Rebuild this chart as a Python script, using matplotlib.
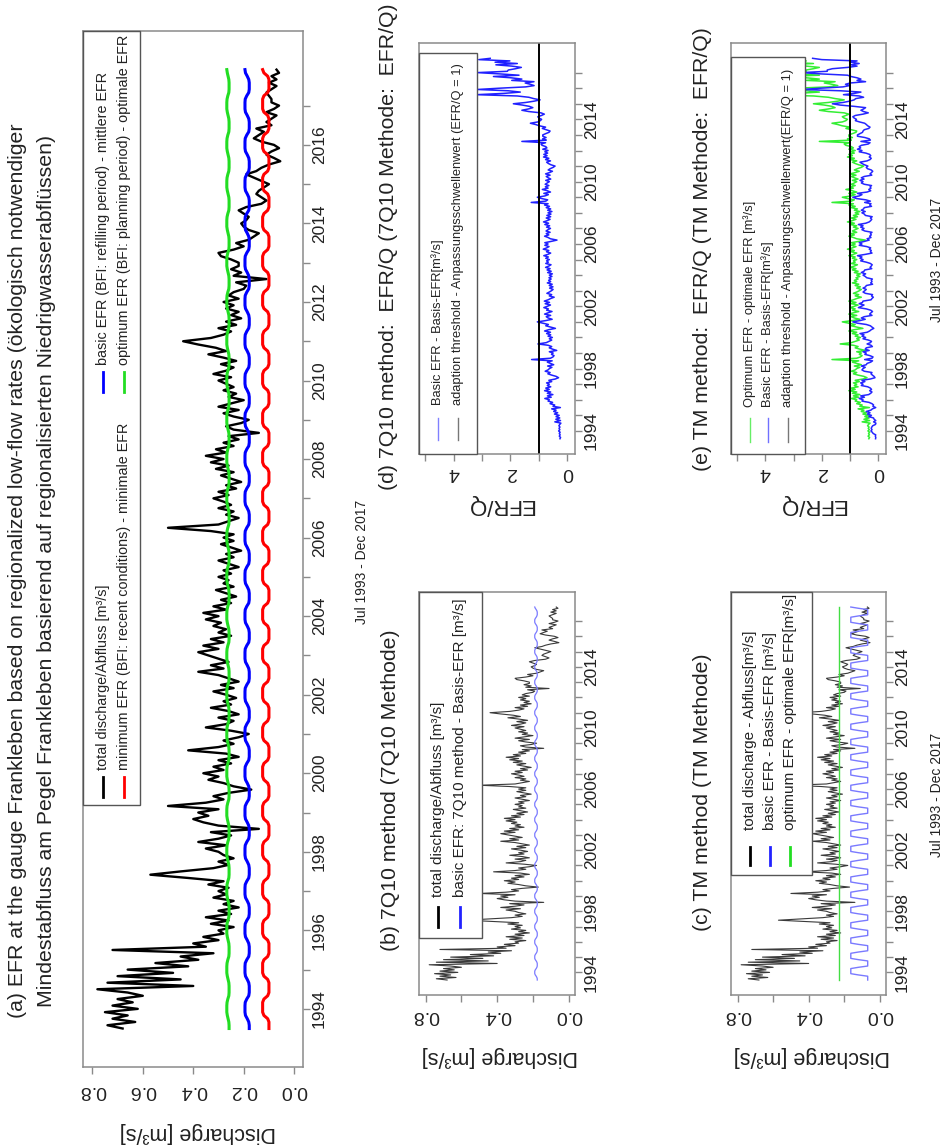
import numpy as np
import matplotlib.pyplot as plt
from matplotlib.lines import Line2D
from matplotlib.patches import Rectangle

plt.rcParams['font.family'] = ['Liberation Sans', 'DejaVu Sans']

# figure size in pixels (the original figure is rotated 90 degrees)
W, H = 952, 1148

# monthly discharge [m3/s], Jul 1993 - Dec 2017
discharge = [
    0.68, 0.74, 0.63, 0.72, 0.66, 0.75,                                  # 1993
    0.62, 0.72, 0.64, 0.70, 0.60, 0.66, 0.78, 0.40, 0.74, 0.45, 0.70, 0.48,  # 1994
    0.66, 0.42, 0.55, 0.38, 0.45, 0.32, 0.72, 0.35, 0.40, 0.30, 0.36, 0.28,  # 1995
    0.30, 0.24, 0.33, 0.26, 0.35, 0.25, 0.30, 0.22, 0.28, 0.24, 0.32, 0.27,  # 1996
    0.30, 0.26, 0.34, 0.28, 0.42, 0.57, 0.45, 0.32, 0.26, 0.30, 0.24, 0.28,  # 1997
    0.30, 0.35, 0.27, 0.38, 0.30, 0.25, 0.33, 0.14, 0.30, 0.36, 0.40, 0.34,  # 1998
    0.38, 0.30, 0.50, 0.35, 0.28, 0.32, 0.26, 0.17, 0.24, 0.28, 0.34, 0.30,  # 1999
    0.36, 0.28, 0.32, 0.25, 0.30, 0.22, 0.27, 0.42, 0.30, 0.24, 0.28, 0.22,  # 2000
    0.18, 0.25, 0.35, 0.27, 0.24, 0.30, 0.22, 0.26, 0.33, 0.25, 0.28, 0.23,  # 2001
    0.27, 0.32, 0.24, 0.29, 0.22, 0.26, 0.30, 0.38, 0.28, 0.33, 0.26, 0.30,  # 2002
    0.34, 0.38, 0.30, 0.36, 0.28, 0.33, 0.25, 0.30, 0.27, 0.32, 0.29, 0.35,  # 2003
    0.30, 0.36, 0.27, 0.32, 0.25, 0.29, 0.23, 0.27, 0.31, 0.24, 0.28, 0.26,  # 2004
    0.30, 0.25, 0.28, 0.22, 0.26, 0.30, 0.24, 0.27, 0.21, 0.25, 0.29, 0.24,  # 2005
    0.28, 0.24, 0.33, 0.50, 0.30, 0.26, 0.22, 0.27, 0.24, 0.30, 0.25, 0.28,  # 2006
    0.32, 0.26, 0.30, 0.23, 0.27, 0.21, 0.25, 0.29, 0.24, 0.31, 0.26, 0.33,  # 2007
    0.28, 0.35, 0.27, 0.31, 0.24, 0.28, 0.22, 0.26, 0.14, 0.24, 0.27, 0.21,  # 2008
    0.18, 0.24, 0.28, 0.22, 0.30, 0.25, 0.20, 0.26, 0.23, 0.28, 0.24, 0.27,  # 2009
    0.30, 0.25, 0.32, 0.27, 0.24, 0.29, 0.23, 0.28, 0.34, 0.27, 0.31, 0.38,  # 2010
    0.44, 0.33, 0.28, 0.25, 0.30, 0.23, 0.27, 0.21, 0.25, 0.22, 0.27, 0.24,  # 2011
    0.28, 0.22, 0.26, 0.24, 0.20, 0.19, 0.23, 0.11, 0.24, 0.21, 0.25, 0.22,  # 2012
    0.22, 0.25, 0.29, 0.30, 0.24, 0.20, 0.23, 0.18, 0.16, 0.14, 0.18, 0.20,  # 2013
    0.21, 0.19, 0.18, 0.20, 0.22, 0.19, 0.13, 0.11, 0.13, 0.15, 0.14, 0.12,  # 2014
    0.10, 0.13, 0.16, 0.19, 0.15, 0.13, 0.10, 0.055, 0.08, 0.11, 0.09, 0.06, # 2015
    0.08, 0.13, 0.16, 0.14, 0.12, 0.15, 0.09, 0.11, 0.09, 0.07, 0.11, 0.08,  # 2016
    0.06, 0.09, 0.09, 0.10, 0.11, 0.09, 0.07, 0.10, 0.07, 0.09, 0.06, 0.07,  # 2017
]

# monthly EFR values (Jan..Dec), repeated every year
efr_min = [0.125, 0.125, 0.125, 0.12, 0.105, 0.10, 0.10, 0.10, 0.10, 0.105, 0.12, 0.125]
efr_basic = [0.195, 0.195, 0.194, 0.188, 0.18, 0.178, 0.178, 0.178, 0.18, 0.186, 0.193, 0.195]
efr_opt = [0.267, 0.267, 0.266, 0.263, 0.259, 0.258, 0.258, 0.258, 0.259, 0.262, 0.265, 0.267]
efr_7q10 = [0.19, 0.19, 0.187, 0.182, 0.178, 0.176, 0.176, 0.176, 0.178, 0.182, 0.187, 0.19]
efr_tm_basic = [0.163, 0.163, 0.163, 0.163, 0.12, 0.068, 0.068, 0.068, 0.068, 0.068, 0.12, 0.163]
efr_tm_opt = 0.23
threshold = 1.0

q = np.array(discharge)
n = len(q)
t = 1993.5 + np.arange(n) / 12.0
month = (6 + np.arange(n)) % 12

min_m = np.array(efr_min)[month]
basic_m = np.array(efr_basic)[month]
opt_m = np.array(efr_opt)[month]
q7_m = np.array(efr_7q10)[month]
tmb_m = np.array(efr_tm_basic)[month]
tmo_m = np.full(n, efr_tm_opt)

ratio_7q10 = q7_m / q
ratio_tm_basic = tmb_m / q
ratio_tm_opt = tmo_m / q

GRAY = '#8a8a8a'
TXT = '#222222'
FONT_TICK_T = 12.5
FONT_TICK_V = 14
FONT_TITLE = 15.3

fig = plt.figure(figsize=(W / 100, H / 100), dpi=100)


def add_ax(l, t, r, b):
    return fig.add_axes([l / W, 1 - b / H, (r - l) / W, (b - t) / H])


def ftext(x, y, s, **kw):
    kw.setdefault('color', TXT)
    return fig.text(x / W, 1 - y / H, s, **kw)


def style(ax, xlim, xticks, xlabels, every, xpad):
    ax.set_xlim(*xlim)
    ax.set_ylim(1992.52, 2018.9)
    years = np.arange(1994, 2018)
    ylab = [str(y) if (y - 1994) % every == 0 else '' for y in years]
    ax.yaxis.tick_right()
    ax.set_yticks(years, labels=ylab, rotation=90, va='center', fontsize=FONT_TICK_T)
    ax.set_xticks(xticks, labels=xlabels, rotation=180, fontsize=FONT_TICK_V)
    ax.tick_params(direction='out', length=5, width=1, color=GRAY, labelcolor=TXT)
    ax.tick_params(axis='y', pad=1.5)
    ax.tick_params(axis='x', pad=xpad)
    for s in ax.spines.values():
        s.set_color(GRAY)
        s.set_linewidth(1.1)


def legend_box(l, t, r, b):
    fig.add_artist(Rectangle((l / W, 1 - b / H), (r - l) / W, (b - t) / H,
                             transform=fig.transFigure, facecolor='white',
                             edgecolor='#555555', lw=1.0, zorder=3))


def legend_entries(entries, ymark, ytext, size):
    for x, label, color, lw in entries:
        fig.add_artist(Line2D([x / W, x / W], [1 - ymark[0] / H, 1 - ymark[1] / H],
                              transform=fig.transFigure, color=color, lw=lw, zorder=4))
        ftext(x, ytext, label, rotation=90, ha='center', va='bottom',
              fontsize=size, zorder=5)


dis_lim = (0.837, -0.035)
efq_lim = (5.22, -0.27)

# (a) EFR at the gauge
axa = add_ax(83, 31, 303, 1067)
axa.plot(q, t, color='black', lw=1.7)
axa.plot(opt_m, t, color='#22dd22', lw=2.2)
axa.plot(basic_m, t, color='#0000ff', lw=2.2)
axa.plot(min_m, t, color='#ff0000', lw=2.2)
style(axa, dis_lim, [0, 0.2, 0.4, 0.6, 0.8], ['0.0', '0.2', '0.4', '0.6', '0.8'], 2, 6)
legend_box(83, 31, 140, 805)
legend_entries([(103, 'total discharge/Abfluss [m³/s]', 'black', 2.0),
                (124, 'minimum EFR (BFI: recent conditions) - minimale EFR', '#ff0000', 2.0)],
               (777, 797), 770, 10.4)
legend_entries([(103, 'basic EFR (BFI: refilling period) - mittlere EFR', '#0000ff', 2.0),
                (124, 'optimum EFR (BFI: planning period) - optimale EFR', '#22dd22', 2.0)],
               (372, 392), 365, 10.4)
ftext(18, 571, '(a) EFR at the gauge Frankleben based on regionalized low-flow rates (ökologisch notwendiger',
      rotation=90, ha='center', va='center', fontsize=FONT_TITLE)
ftext(47, 571, 'Mindestabfluss am Pegel Frankleben basierend auf regionalisierten Niedrigwasserabflüssen)',
      rotation=90, ha='center', va='center', fontsize=FONT_TITLE)
ftext(198, 1133, 'Discharge [m³/s]', rotation=180, ha='center', va='center', fontsize=15.5)
ftext(362, 562, 'Jul 1993 - Dec 2017', rotation=90, ha='center', va='center', fontsize=10)

# (b) 7Q10 method
axb = add_ax(419, 592, 575, 995)
axb.plot(q, t, color='#3a3a3a', lw=0.8)
axb.plot(q7_m, t, color='#7a7aff', lw=0.9)
style(axb, dis_lim, [0, 0.2, 0.4, 0.6, 0.8], ['0.0', '', '0.4', '', '0.8'], 4, 3.5)
legend_box(419, 592, 482, 938)
legend_entries([(438, 'total discharge/Abfluss [m³/s]', 'black', 2.0),
                (460, 'basic EFR: 7Q10 method - Basis-EFR [m³/s]', '#2222ff', 2.0)],
               (907, 927), 897, 11)
ftext(390, 790, '(b) 7Q10 method (7Q10 Methode)', rotation=90, ha='center', va='center',
      fontsize=FONT_TITLE)
ftext(500, 1057, 'Discharge [m³/s]', rotation=180, ha='center', va='center', fontsize=15.5)

# (c) TM method
axc = add_ax(731, 592, 886, 995)
axc.plot(q, t, color='#3a3a3a', lw=0.8)
axc.plot(tmb_m, t, color='#7a7aff', lw=1.0)
axc.plot(tmo_m, t, color='#44dd44', lw=1.0)
style(axc, dis_lim, [0, 0.2, 0.4, 0.6, 0.8], ['0.0', '', '0.4', '', '0.8'], 4, 3.5)
legend_box(731, 592, 812, 875)
legend_entries([(750, 'total discharge - Abfluss[m³/s]', 'black', 2.0),
                (770, 'basic EFR - Basis-EFR [m³/s]', '#2222ff', 2.0),
                (790, 'optimum EFR - optimale EFR[m³/s]', '#22dd22', 2.0)],
               (847, 865), 830, 11)
ftext(702, 792, '(c) TM method (TM Methode)', rotation=90, ha='center', va='center',
      fontsize=FONT_TITLE)
ftext(812, 1057, 'Discharge [m³/s]', rotation=180, ha='center', va='center', fontsize=15.5)
ftext(937, 795, 'Jul 1993 - Dec 2017', rotation=90, ha='center', va='center', fontsize=10)

# (d) 7Q10 method: EFR/Q
axd = add_ax(419, 43, 575, 454)
axd.plot(ratio_7q10, t, color='#2020ff', lw=1.1)
axd.axvline(threshold, color='black', lw=1.4)
style(axd, efq_lim, [0, 1, 2, 3, 4, 5], ['0', '', '2', '', '4', ''], 4, 2)
legend_box(419, 53, 477, 454)
legend_entries([(438, 'Basic EFR - Basis-EFR[m³/s]', '#8080ff', 1.0),
                (458, 'adaption threshold - Anpassungsschwellenwert (EFR/Q = 1)', '#777777', 1.0)],
               (418, 440), 405, 9.3)
ftext(389, 247, '(d) 7Q10 method:  EFR/Q (7Q10 Methode:  EFR/Q)', rotation=90, ha='center',
      va='center', fontsize=FONT_TITLE)
ftext(500, 505, 'EFR/Q', rotation=180, ha='center', va='center', fontsize=16)

# (e) TM method: EFR/Q
axe = add_ax(731, 43, 886, 454)
axe.plot(ratio_tm_opt, t, color='#33ee33', lw=1.1)
axe.plot(ratio_tm_basic, t, color='#2525ff', lw=1.1)
axe.axvline(threshold, color='black', lw=1.4)
style(axe, efq_lim, [0, 1, 2, 3, 4, 5], ['0', '', '2', '', '4', ''], 4, 2)
legend_box(731, 57, 805, 454)
legend_entries([(750, 'Optimum EFR - optimale EFR [m³/s]', '#66ee66', 1.0),
                (768, 'Basic EFR - Basis-EFR[m³/s]', '#7070ff', 1.0),
                (788, 'adaption threshold - Anpassungsschwellenwert(EFR/Q = 1)', '#777777', 1.0)],
               (418, 442), 407, 9.3)
ftext(702, 249, '(e) TM method:  EFR/Q (TM Methode:  EFR/Q)', rotation=90, ha='center',
      va='center', fontsize=FONT_TITLE)
ftext(812, 505, 'EFR/Q', rotation=180, ha='center', va='center', fontsize=16)
ftext(937, 260, 'Jul 1993 - Dec 2017', rotation=90, ha='center', va='center', fontsize=10)

fig.savefig('out.png', dpi=100, facecolor='white')
